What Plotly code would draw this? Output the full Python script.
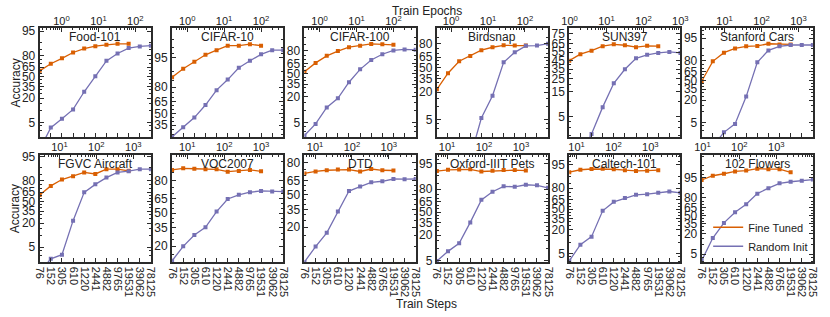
import numpy as np
import plotly.graph_objects as go

# ---------------- data ----------------
steps = [76, 152, 305, 610, 1220, 2441, 4882, 9765, 19531, 39062, 78125]
step_labels = [str(s) for s in steps]
datasets = ["Food-101", "CIFAR-10", "CIFAR-100", "Birdsnap", "SUN397", "Stanford Cars",
            "FGVC Aircraft", "VOC2007", "DTD", "Oxford-IIIT Pets", "Caltech-101", "102 Flowers"]
train_sizes = [75750, 50000, 50000, 47386, 19850, 8144, 6667, 5011, 3760, 3680, 3060, 2040]
batch_size = 256

ft_food = [59.5, 69.9, 76.8, 82.8, 86.1, 87.9, 88.8, 89.4, 89.4]
ri_food = [0.9, 3.6, 6.2, 10.8, 27.5, 50.7, 73.7, 81.9, 86.5, 87.7, 88.2]
ft_c10 = [87.1, 91.4, 93.9, 95.7, 96.6, 97.3, 97.3, 97.5, 97.3]
ri_c10 = [22.4, 32.5, 44.5, 60.9, 77.4, 85.7, 91.8, 94.2, 95.8, 96.6, 96.6]
ft_c100 = [52.8, 65.7, 74.5, 79.6, 83.1, 84.2, 85.7, 85.4, 85.0]
ri_c100 = [2.4, 4.7, 11.7, 18.6, 37.5, 56.5, 69.5, 76.3, 80.2, 81.1, 80.8]
ft_bird = [22.8, 42.5, 59.4, 66.5, 73.4, 76.5, 78.4, 78.2, 78.2]
ri_bird = [0.2, 0.2, 0.3, 0.6, 5.4, 17.0, 58.0, 70.9, 77.9, 78.2, 80.0]
ft_sun = [44.8, 52.7, 57.0, 62.2, 64.4, 63.3, 61.1, 62.7, 62.2]
ri_sun = [0.3, 0.8, 2.2, 7.7, 21.1, 34.7, 47.6, 51.9, 54.2, 55.4, 54.2]
ft_cars = [48.6, 79.1, 87.4, 90.3, 91.5, 91.7, 92.8, 92.5, 92.5]
ri_cars = [0.5, 1.0, 2.6, 4.6, 24.4, 78.0, 89.0, 91.5, 92.2, 92.2, 92.2]
ft_air = [60.8, 73.6, 80.8, 83.9, 87.0, 85.8, 89.2, 89.2, 88.1]
ri_air = [1.0, 2.4, 3.1, 22.6, 64.7, 75.5, 82.7, 87.0, 87.9, 89.2, 89.2]
ft_voc = [86.1, 86.9, 86.7, 86.4, 86.4, 85.2, 85.6, 86.1, 85.4]
ri_voc = [11.9, 19.9, 28.6, 35.7, 51.8, 64.6, 68.5, 70.8, 71.9, 71.4, 71.4]
ft_dtd = [71.6, 73.3, 74.3, 74.9, 74.9, 73.3, 75.3, 74.3, 74.1]
ri_dtd = [5.3, 9.8, 16.4, 32.8, 54.2, 58.9, 63.3, 64.3, 66.5, 66.3, 66.5]
ft_pets = [92.3, 92.8, 92.9, 93.0, 92.1, 92.4, 92.7, 92.7, 92.5]
ri_pets = [5.0, 8.6, 13.3, 35.1, 67.8, 77.5, 82.7, 82.2, 84.0, 83.5, 81.3]
ft_cal = [92.1, 93.2, 93.5, 93.6, 93.4, 93.0, 92.7, 92.8, 93.0]
ri_cal = [3.1, 8.6, 13.8, 47.1, 61.8, 67.7, 72.1, 73.0, 74.7, 76.3, 74.7]
ft_flw = [94.0, 95.6, 96.2, 96.8, 97.0, 97.4, 97.3, 97.3, 96.6]
ri_flw = [3.1, 15.3, 36.7, 56.7, 70.8, 84.6, 89.3, 92.4, 93.2, 93.7, 94.2]

fine_tuned = [ft_food, ft_c10, ft_c100, ft_bird, ft_sun, ft_cars,
              ft_air, ft_voc, ft_dtd, ft_pets, ft_cal, ft_flw]
random_init = [ri_food, ri_c10, ri_c100, ri_bird, ri_sun, ri_cars,
               ri_air, ri_voc, ri_dtd, ri_pets, ri_cal, ri_flw]

y_limits = [(2.0, 95.8), (22.3, 98.9), (2.2, 93.8), (1.9, 90.5), (1.9, 79.7), (1.9, 97.4),
            (1.9, 95.5), (11.2, 92.2), (5.2, 85.0), (4.6, 97.0), (2.8, 97.4), (2.7, 99.1)]
acc_ticks = [5, 20, 35, 50, 65, 80, 95]
acc_ticks_sun = [5, 15, 25, 35, 45, 55, 65, 75]

# ---------------- style ----------------
C_FT = "#D95F02"
C_RI = "#7570B3"
AX = "#2b2b2b"
TXT = "#222222"
FONT = "Liberation Sans, Arial, sans-serif"
W, H = 830, 317


def logit(p):
    p = np.asarray(p, dtype=float) / 100.0
    return np.log(p / (1 - p))


fig = go.Figure()
layout = {}
annotations = []

for i, name in enumerate(datasets):
    row, col = divmod(i, 6)
    left = 32.3 + 135 * col
    right = left + 113.4
    top, bot = (24.3, 136.7) if row == 0 else (155.0, 266.7)
    xd = [left / W, right / W]
    yd = [1 - bot / H, 1 - top / H]

    xb = 2 * i + 1
    xt = 2 * i + 2
    yi = i + 1
    xb_name = "x" if xb == 1 else f"x{xb}"
    xt_name = f"x{xt}"
    y_name = "y" if yi == 1 else f"y{yi}"

    lo, hi = y_limits[i]
    majors = acc_ticks_sun if name == "SUN397" else acc_ticks
    majors = [t for t in majors if lo + 0.05 <= t <= hi]
    minor_all = [1, 2, 3, 4, 10, 15, 20, 25, 30, 40, 45, 55, 60, 70, 75, 85, 90, 96, 97, 98, 99]
    minors = [t for t in minor_all if t not in majors and lo < t < hi]

    # bottom step axis
    layout["xaxis" if xb == 1 else f"xaxis{xb}"] = dict(
        type="log", domain=xd, anchor=y_name, color=TXT,
        range=[np.log10(steps[0]), np.log10(steps[-1])],
        tickmode="array", tickvals=steps, ticktext=step_labels,
        showticklabels=(row == 1), tickangle=90,
        ticks="inside", ticklen=4, tickwidth=1, tickcolor=AX,
        showline=True, linewidth=2, linecolor=AX, mirror=True,
        showgrid=False, zeroline=False,
        tickfont=dict(size=11, color=TXT, family=FONT),
    )
    # top epoch axis
    spe = batch_size / train_sizes[i]
    e0, e1 = steps[0] * spe, steps[-1] * spe
    decades = [10.0 ** d for d in range(-2, 5) if e0 * 0.999 <= 10.0 ** d <= e1 * 1.001]
    dec_txt = [f"10<sup>{int(round(np.log10(d)))}</sup>" for d in decades]
    ep_minor = [m * 10.0 ** d for d in range(-2, 5) for m in range(2, 10) if e0 < m * 10.0 ** d < e1]
    layout[f"xaxis{xt}"] = dict(
        type="log", overlaying=xb_name, side="top", anchor=y_name, color=TXT,
        range=[np.log10(e0), np.log10(e1)],
        tickmode="array", tickvals=decades, ticktext=dec_txt,
        ticks="inside", ticklen=4, tickwidth=1, tickcolor=AX,
        minor=dict(tickmode="array", tickvals=ep_minor, ticks="inside", ticklen=2,
                   tickcolor=AX, showgrid=False),
        showline=False, showgrid=False, zeroline=False,
        tickfont=dict(size=11, color=TXT, family=FONT),
    )
    # y axis
    layout["yaxis" if yi == 1 else f"yaxis{yi}"] = dict(
        domain=yd, anchor=xb_name, color=TXT,
        range=[float(logit(lo)), float(logit(hi))],
        tickmode="array", tickvals=list(logit(majors)), ticktext=[str(t) for t in majors],
        ticks="inside", ticklen=4, tickwidth=1, tickcolor=AX,
        minor=dict(tickmode="array", tickvals=list(logit(minors)), ticks="inside",
                   ticklen=2, tickcolor=AX, showgrid=False),
        showline=True, linewidth=2, linecolor=AX, mirror="ticks",
        showgrid=False, zeroline=False,
        tickfont=dict(size=12, color=TXT, family=FONT),
    )

    fig.add_trace(go.Scatter(
        x=steps[:len(fine_tuned[i])], y=logit(fine_tuned[i]), xaxis=xb_name, yaxis=y_name,
        mode="lines+markers", line=dict(color=C_FT, width=1.3),
        marker=dict(symbol="square", size=4, color=C_FT),
        showlegend=False, hoverinfo="skip"))
    fig.add_trace(go.Scatter(
        x=steps, y=logit(random_init[i]), xaxis=xb_name, yaxis=y_name,
        mode="lines+markers", line=dict(color=C_RI, width=1.3),
        marker=dict(symbol="square", size=4, color=C_RI),
        showlegend=False, hoverinfo="skip"))
    # invisible trace so the epoch axis is drawn
    fig.add_trace(go.Scatter(
        x=[e0, e1], y=[float(logit(lo)), float(logit(lo))], xaxis=xt_name, yaxis=y_name,
        mode="lines", opacity=0, showlegend=False, hoverinfo="skip"))

    annotations.append(dict(
        text=name, xref=f"{xb_name} domain", yref=f"{y_name} domain",
        x=0.5, y=1, xanchor="center", yanchor="top", yshift=0, showarrow=False,
        font=dict(size=12, color=TXT, family=FONT)))

# legend entries
fig.add_trace(go.Scatter(x=[None], y=[None], xaxis="x23", yaxis="y12", mode="lines",
                         line=dict(color=C_FT, width=1.5), name="Fine Tuned"))
fig.add_trace(go.Scatter(x=[None], y=[None], xaxis="x23", yaxis="y12", mode="lines",
                         line=dict(color=C_RI, width=1.5), name="Random Init"))

for yc in [80.5, 210.8]:
    annotations.append(dict(text="Accuracy", xref="paper", yref="paper",
                            x=8 / W, y=1 - yc / H, textangle=-90, showarrow=False,
                            xanchor="center", yanchor="middle",
                            font=dict(size=12, color=TXT, family=FONT)))
annotations.append(dict(text="Train Epochs", xref="paper", yref="paper",
                        x=427 / W, y=1 - 6 / H, showarrow=False,
                        xanchor="center", yanchor="middle",
                        font=dict(size=12, color=TXT, family=FONT)))
annotations.append(dict(text="Train Steps", xref="paper", yref="paper",
                        x=427 / W, y=1 - 310 / H, showarrow=False,
                        xanchor="center", yanchor="middle",
                        font=dict(size=12, color=TXT, family=FONT)))

fig.update_layout(
    width=W, height=H, autosize=False,
    margin=dict(l=0, r=0, t=0, b=0),
    paper_bgcolor="white", plot_bgcolor="white",
    font=dict(family=FONT, color=TXT),
    annotations=annotations,
    legend=dict(x=821 / W, y=1 - 265 / H, xanchor="right", yanchor="bottom",
                bgcolor="rgba(0,0,0,0)", borderwidth=0, itemwidth=30,
                font=dict(size=11, color=TXT, family=FONT), tracegroupgap=0),
    **layout,
)

fig.write_html("out.html", config={"displayModeBar": False},
               post_script="document.body.style.margin='0px';")
